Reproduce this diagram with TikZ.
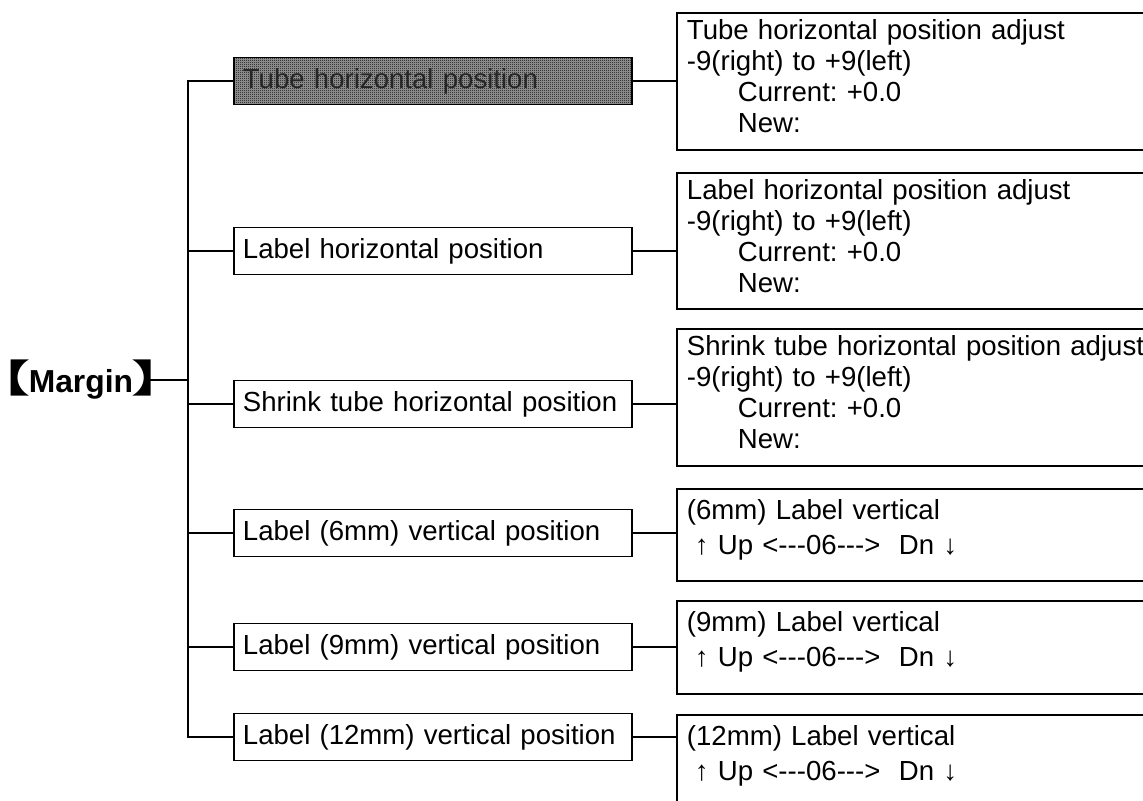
\documentclass[tikz,border=0pt]{standalone}
\usepackage{graphicx}
\usepackage{fontspec}
\setmainfont{Liberation Sans}
\newfontfamily\cjkfont{Noto Sans CJK SC}
\usepackage{tikz}
\usetikzlibrary{positioning,patterns}

% fine dither used for the selected entry
\pgfdeclarepatternformonly{finechk}{\pgfqpoint{0pt}{0pt}}{\pgfqpoint{1pt}{1pt}}{\pgfqpoint{1pt}{1pt}}{%
  \pgfpathrectangle{\pgfqpoint{0pt}{0pt}}{\pgfqpoint{0.5pt}{0.5pt}}%
  \pgfpathrectangle{\pgfqpoint{0.5pt}{0.5pt}}{\pgfqpoint{0.5pt}{0.5pt}}%
  \pgfusepath{fill}}

\newcommand{\dsh}{-\kern0pt-\kern0pt-}
\newcommand{\ind}{\hspace*{25.5pt}}
\newcommand{\tail}[1]{\rule[-#1]{0pt}{0pt}}
\newcommand{\lbrk}{{\cjkfont\kern-1.22em\scalebox{1.8}[1.2]{【}\kern-0.06em}}
\newcommand{\rbrk}{{\cjkfont\kern-0.06em\scalebox{1.8}[1.2]{】}\kern-1.22em}}
\frenchspacing

\begin{document}
\begin{tikzpicture}[
    x=0.5pt, y=-0.5pt,
    every node/.style={font=\fontsize{13.8}{15.5}\selectfont},
    line/.style={line width=0.9pt},
    item/.style={rectangle, draw, line width=0.9pt, anchor=west, text width=190pt,
                 inner xsep=4.5pt, minimum height=23.5pt, align=left},
    pick/.style={item, preaction={fill=black!38}, pattern=finechk, text=black!85},
    adj/.style={rectangle, draw, line width=0.9pt, anchor=north west, minimum width=260pt,
                text width=250pt, inner xsep=1pt, align=left},
    vert/.style={adj, font=\fontsize{13.8}{17.5}\selectfont},
    root/.style={font=\fontsize{15.9}{18}\selectfont\bfseries, inner sep=0pt, anchor=east}
  ]
  \useasboundingbox (0,0) rectangle (1143,801);
  \clip (0,0) rectangle (1143,801);

  % --- menu entries ---
  \node[pick] (m1) at (233,81)  {Tube horizontal position};
  \node[item] (m2) at (233,251) {Label horizontal position};
  \node[item] (m3) at (233,404) {Shrink tube horizontal position};
  \node[item] (m4) at (233,533) {Label (6mm) vertical position};
  \node[item] (m5) at (233,647) {Label (9mm) vertical position};
  \node[item] (m6) at (233,737) {Label (12mm) vertical position};

  % --- setting screens ---
  \node[adj, minimum height=68.5pt] (r1) at (676,12)
    {Tube horizontal position adjust\\-9(right) to +9(left)\\\ind Current: +0.0\\\ind New:\tail{5pt}};
  \node[adj, minimum height=67.5pt] (r2) at (676,172)
    {Label horizontal position adjust\\-9(right) to +9(left)\\\ind Current: +0.0\\\ind New:\tail{5pt}};
  \node[adj, minimum height=68.5pt] (r3) at (676,328)
    {Shrink tube horizontal position adjust\\-9(right) to +9(left)\\\ind Current: +0.0\\\ind New:\tail{5pt}};
  \node[vert, minimum height=46pt] (r4) at (676,488)
    {(6mm) Label vertical\\\hspace*{4pt}↑ Up <\dsh06\dsh>\ \ Dn ↓\tail{8pt}};
  \node[vert, minimum height=46.5pt] (r5) at (676,600)
    {(9mm) Label vertical\\\hspace*{4pt}↑ Up <\dsh06\dsh>\ \ Dn ↓\tail{8pt}};
  \node[vert, minimum height=46pt] (r6) at (676,714)
    {(12mm) Label vertical\\\hspace*{4pt}↑ Up <\dsh06\dsh>\ \ Dn ↓\tail{8pt}};

  % --- root and trunk ---
  \node[root] (margin) at (150,380) {\lbrk Margin\rbrk};
  \coordinate (trunk) at (188,380);
  \draw[line] (margin.east) -- (trunk);
  \draw[line] (m1.west) -| (trunk) |- (m6.west);
  \foreach \i in {2,...,5}
    \draw[line] (m\i.west) -- (m\i.west -| trunk);
  \foreach \i in {1,...,6}
    \draw[line] (m\i.east) -- (m\i.east -| r\i.west);
\end{tikzpicture}
\end{document}
